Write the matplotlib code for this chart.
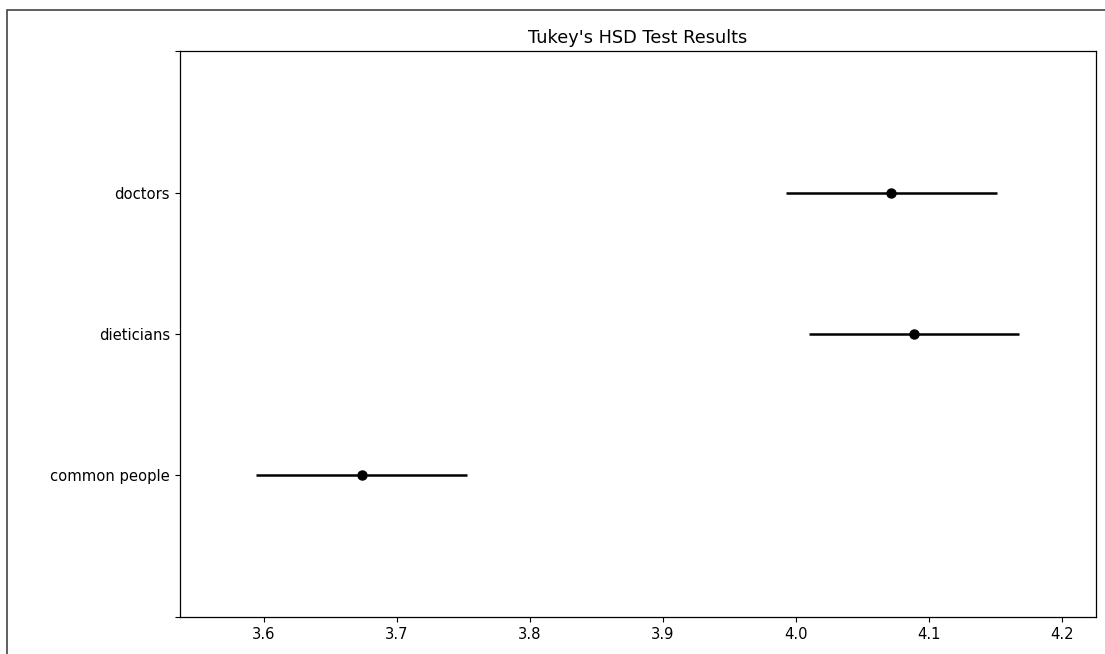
import matplotlib
matplotlib.use("Agg")
import matplotlib.pyplot as plt
import matplotlib.patches as mpatches
import numpy as np

groups = ['common people', 'dieticians', 'doctors']
means = [3.6737, 4.0886, 4.0716]
halfwidths = [0.0792, 0.0792, 0.0792]

plt.rcParams['font.size'] = 10.6
plt.rcParams['axes.titlesize'] = 12.8
plt.rcParams['xtick.major.size'] = 3.7
plt.rcParams['ytick.major.size'] = 3.7
plt.rcParams['axes.linewidth'] = 0.9

fig = plt.figure(figsize=(11.05, 6.54), dpi=100)
ax = fig.add_axes([0.1629, 0.0566, 0.8287, 0.8654])

# outer frame of the original figure (screenshot is cropped at right/bottom)
fig.patches.append(mpatches.Rectangle((7 / 1105, -0.1), 1.2, 1.1 - 10 / 654,
                                      transform=fig.transFigure, fill=False,
                                      edgecolor='#444444', linewidth=1.2))

means = np.array(means)
halfwidths = np.array(halfwidths)
ypos = np.arange(len(means))
ax.errorbar(means, ypos, xerr=halfwidths, marker='o', linestyle='None',
            color='k', ecolor='k', elinewidth=1.8, markersize=6.5)

lo = (means - halfwidths).min()
hi = (means + halfwidths).max()
r = hi - lo
ax.set_xlim(lo - r / 10, hi + r / 10)
ax.set_ylim(-1, len(means))
ax.set_yticks(np.arange(-1, len(means) + 1))
ax.set_yticklabels([''] + groups + [''])
ax.set_xticks([3.6, 3.7, 3.8, 3.9, 4.0, 4.1, 4.2])
ax.set_title("Tukey's HSD Test Results")

fig.savefig('out.png', dpi=100)
